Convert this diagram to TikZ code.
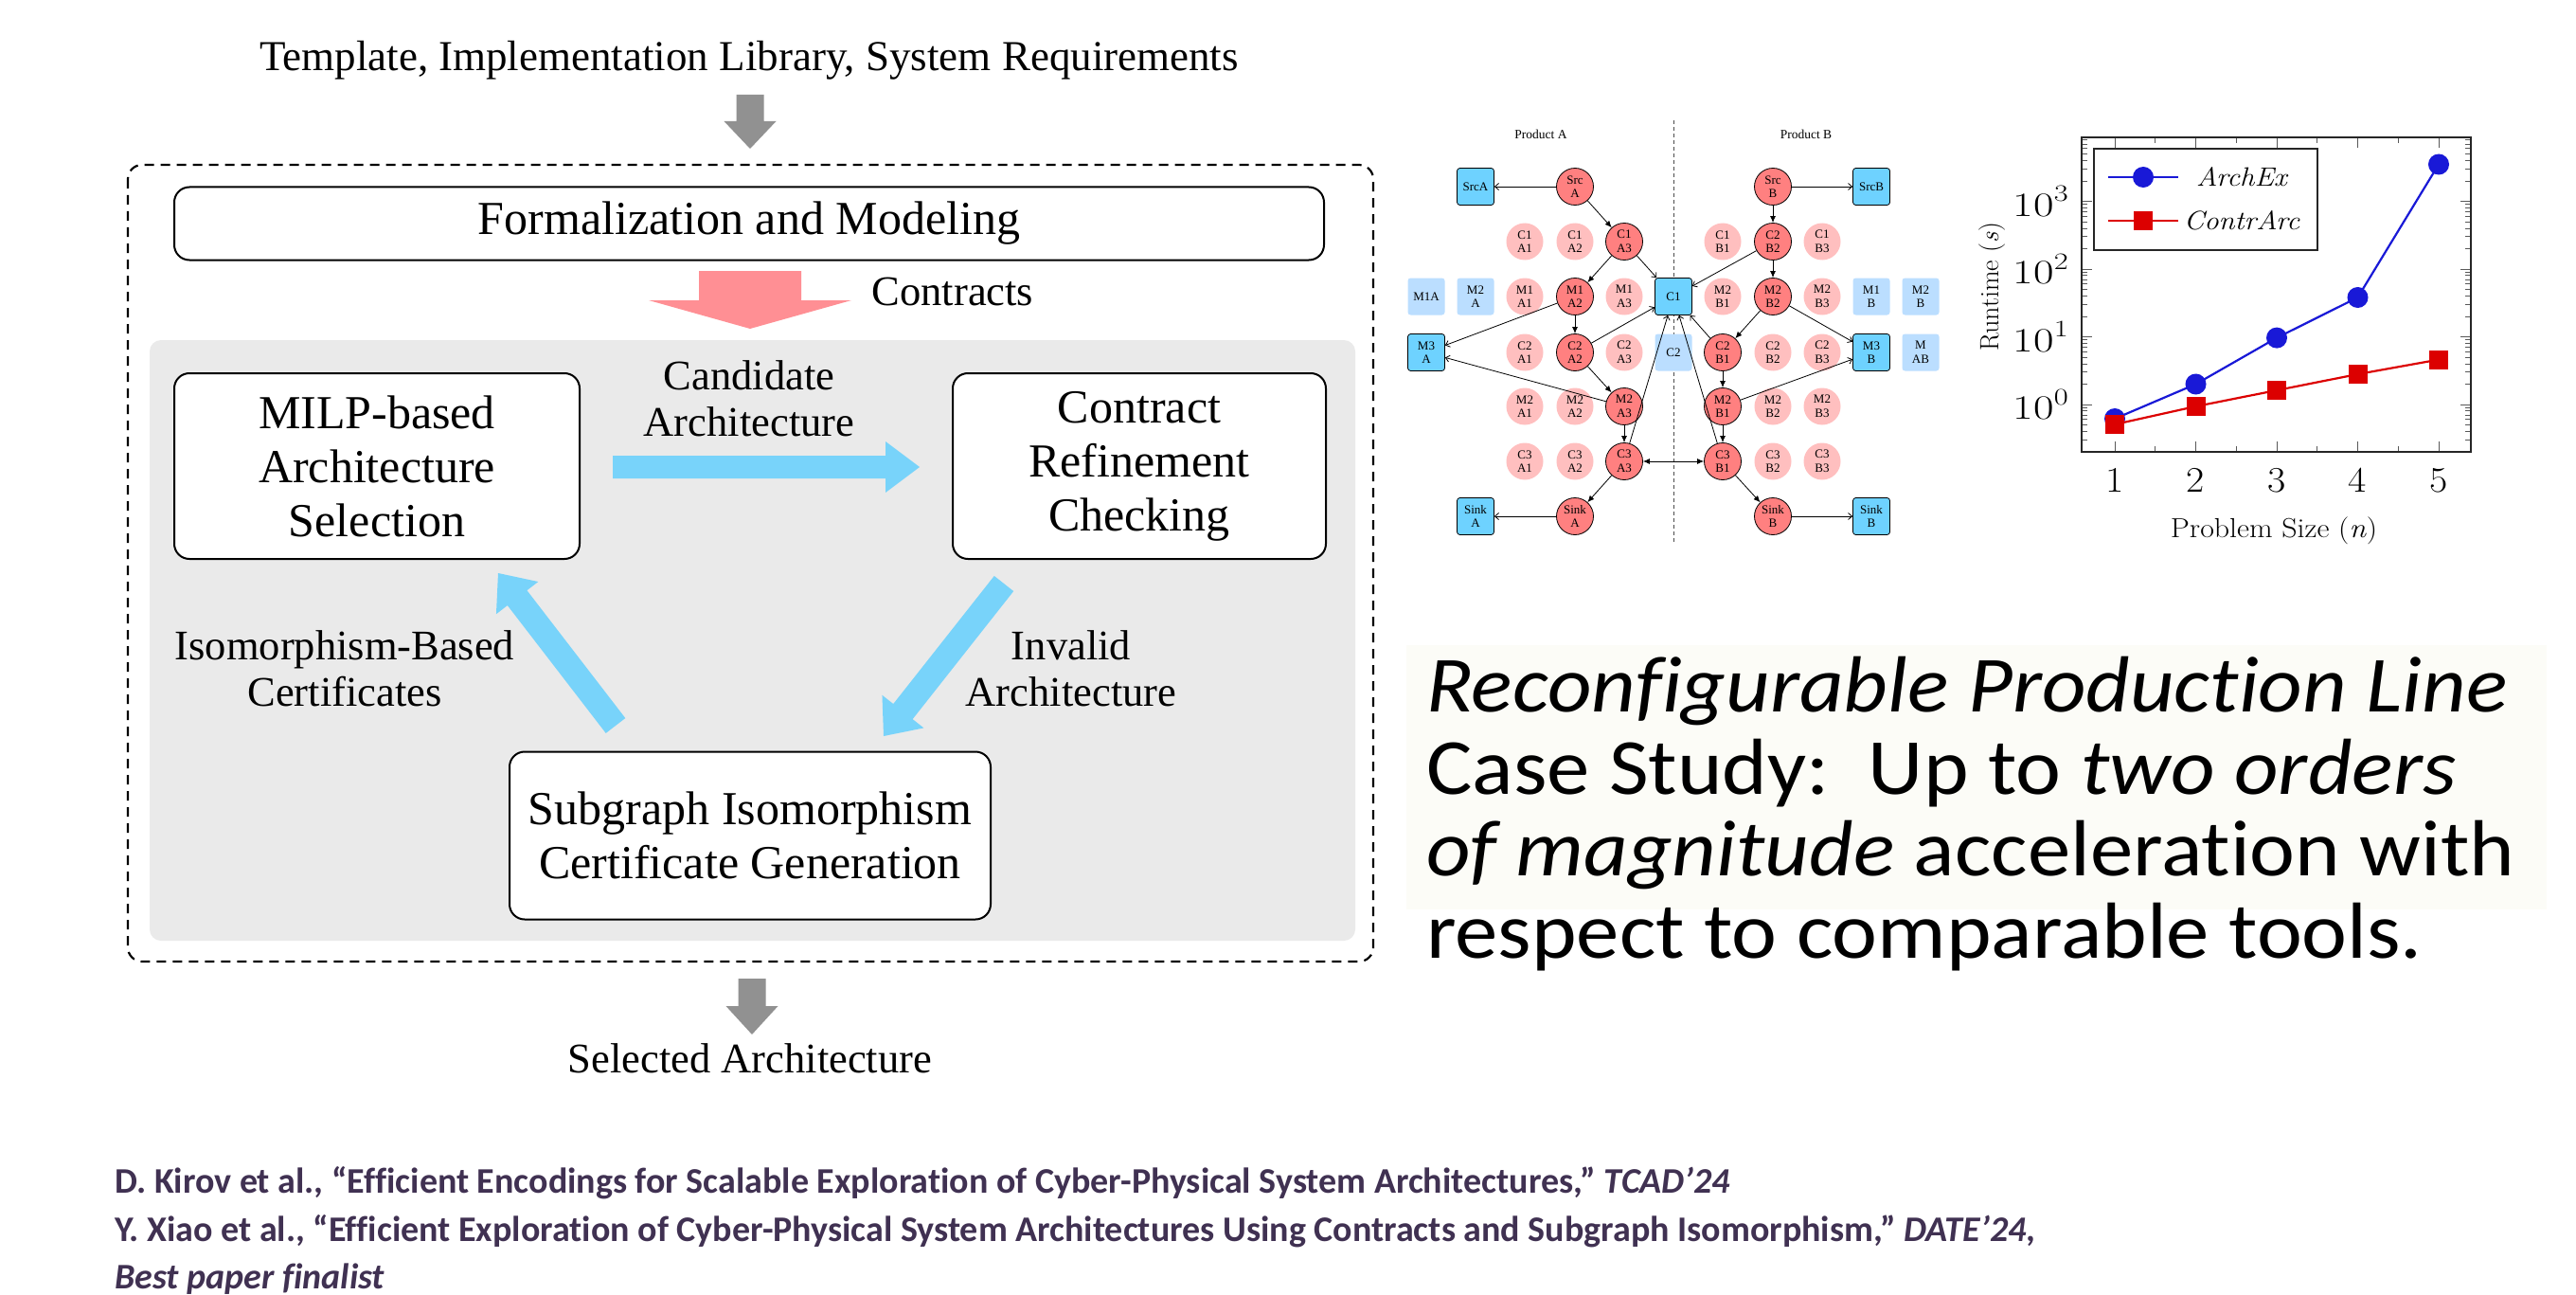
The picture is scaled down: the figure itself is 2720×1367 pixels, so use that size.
\documentclass[tikz,border=0pt]{standalone}
\usepackage{fontspec}
\setmainfont{Liberation Serif}
\newfontfamily\calib[Ligatures=NoCommon]{Carlito}
\newfontfamily\calibwide[FakeStretch=1.08,Ligatures=NoCommon]{Carlito}
\newfontfamily\lmr{Latin Modern Roman}
\newfontfamily\lmrw[FakeStretch=1.3]{Latin Modern Roman}
\newfontfamily\lmrx[FakeStretch=1.1]{Latin Modern Roman}
\usetikzlibrary{arrows.meta,calc}

\definecolor{redn}{RGB}{255,128,128}
\definecolor{pinkn}{RGB}{255,191,191}
\definecolor{bluen}{RGB}{110,210,255}
\definecolor{lbluen}{RGB}{187,222,255}
\definecolor{flowblue}{RGB}{120,211,250}
\definecolor{flowpink}{RGB}{255,143,148}
\definecolor{flowgray}{RGB}{145,145,145}
\definecolor{bgray}{RGB}{234,234,234}
\definecolor{refcol}{RGB}{64,49,82}
\definecolor{plotblue}{RGB}{25,25,215}
\definecolor{plotred}{RGB}{220,0,0}
\definecolor{tintbg}{RGB}{252,252,247}

\newcommand\fsz[2]{\fontsize{#1}{#2}\selectfont}
% block arrow: #1 name, #2 start, #3 tip, #4 half shaft, #5 half head, #6 head length, #7 colour
\newcommand\blockarr[7]{%
  \coordinate (#1h) at ($#3!#6!#2$);
  \fill[#7] ($#2!#4!90:#3$) -- ($(#1h)!#4!90:#3$) -- ($(#1h)!#5!90:#3$) -- #3
    -- ($(#1h)!#5!-90:#3$) -- ($(#1h)!#4!-90:#3$) -- ($#2!#4!-90:#3$) -- cycle;
}

\tikzset{
  gnode/.style={circle, minimum size=39pt, inner sep=0pt, align=center, font=\fsz{13}{14.5}},
  rn/.style={gnode, fill=redn, draw=black, line width=0.8pt},
  pn/.style={gnode, fill=pinkn},
  bn/.style={rectangle, rounded corners=3pt, minimum size=39pt, inner sep=0pt, align=center,
    font=\fsz{13}{14.5}, fill=bluen, draw=black, line width=0.8pt},
  lbn/.style={bn, fill=lbluen, draw=none},
  fa/.style={-{Latex[length=7pt,width=6pt]}, line width=0.8pt},
  oa/.style={-{Straight Barb[length=4pt,width=7pt]}, line width=0.8pt},
  fbox/.style={draw, line width=2pt, rounded corners=16pt, fill=white, align=center,
    font=\fsz{50}{57}, inner sep=0pt},
  flab/.style={align=center, font=\fsz{44.5}{49}, inner sep=0pt},
  tickc/.style={line width=0.9pt, black!65},
  reftext/.style={anchor=base west, inner sep=0pt, font=\calib\bfseries\fsz{38}{46}, text=refcol},
  rtext/.style={anchor=base west, inner sep=0pt, font=\calibwide\fsz{84}{87}},
}

\begin{document}
\begin{tikzpicture}[x=1pt,y=-1pt]
\useasboundingbox (0,0) rectangle (2720,1367);
\fill[white] (0,0) rectangle (2720,1367);

% ================= flowchart =================
\node[flab, font=\fsz{45}{49}] (top) at (791,64) {Template, Implementation Library, System Requirements};
\coordinate (gta) at (792,100); \coordinate (gtb) at (792,157);
\blockarr{gt}{(gta)}{(gtb)}{14.5pt}{27.5pt}{29pt}{flowgray}

\draw[line width=2.2pt, dash pattern=on 10pt off 7pt, rounded corners=15pt] (135,174) rectangle (1450,1015);
\fill[bgray, rounded corners=12pt] (158,359) rectangle (1431,993);

\node[fbox, minimum width=1214pt, minimum height=77pt] (formal) at (791,236) {Formalization and Modeling};

\coordinate (pka) at (792,286); \coordinate (pkb) at (792,347);
\blockarr{pk}{(pka)}{(pkb)}{54pt}{107pt}{30pt}{flowpink}
\node[flab, anchor=base] (contracts) at (1006,322) {Contracts};

\node[fbox, minimum width=428pt, minimum height=196pt] (milp) at (398,492) {MILP-based\\Architecture\\Selection};
\node[fbox, minimum width=394pt, minimum height=196pt] (crc) at (1203,492) {Contract\\Refinement\\Checking};
\node[fbox, minimum width=508pt, minimum height=177pt] (sub) at (792,882) {Subgraph Isomorphism\\Certificate Generation};

\node[flab] (cand) at (791,421) {Candidate\\Architecture};
\node[flab] (inval) at (1131,706) {Invalid\\Architecture};
\node[flab] (iso) at (364,706) {Isomorphism-Based\\Certificates};

\coordinate (b1a) at (647,493); \coordinate (b1b) at (971,493);
\blockarr{b1}{(b1a)}{(b1b)}{12pt}{27pt}{36pt}{flowblue}
\coordinate (b2a) at (1060,616); \coordinate (b2b) at (933,777);
\blockarr{b2}{(b2a)}{(b2b)}{13pt}{28pt}{33pt}{flowblue}
\coordinate (b3a) at (650,766); \coordinate (b3b) at (526,605);
\blockarr{b3}{(b3a)}{(b3b)}{13pt}{28pt}{33pt}{flowblue}

\coordinate (gba) at (794,1033); \coordinate (gbb) at (794,1092);
\blockarr{gb}{(gba)}{(gbb)}{14.5pt}{27.5pt}{30pt}{flowgray}
\node[flab, anchor=base] (selected) at (792,1132) {Selected Architecture};

% ================= graph =================
\draw[black!70, line width=0.8pt, dash pattern=on 4pt off 3pt] (1767,127) -- (1767,572);
\node[inner sep=0pt, font=\fsz{13.5}{15}] (prodA) at (1627,142) {Product A};
\node[inner sep=0pt, font=\fsz{13.5}{15}] (prodB) at (1907,142) {Product B};

% A side
\node[bn] (bSrcA) at (1558,197) {SrcA};
\node[rn] (SrcA) at (1663,197) {Src\\A};
\node[pn] (C1A1) at (1610,255) {C1\\A1};
\node[pn] (C1A2) at (1663,255) {C1\\A2};
\node[rn] (C1A3) at (1715,255) {C1\\A3};
\node[lbn] (bM1A) at (1506,313) {M1A};
\node[lbn] (bM2A) at (1558,313) {M2\\A};
\node[pn] (M1A1) at (1610,313) {M1\\A1};
\node[rn] (M1A2) at (1663,313) {M1\\A2};
\node[pn] (M1A3) at (1715,313) {M1\\A3};
\node[bn] (bC1) at (1767,313) {C1};
\node[bn] (bM3A) at (1506,372) {M3\\A};
\node[pn] (C2A1) at (1610,372) {C2\\A1};
\node[rn] (C2A2) at (1663,372) {C2\\A2};
\node[pn] (C2A3) at (1715,372) {C2\\A3};
\node[lbn] (bC2) at (1767,372) {C2};
\node[pn] (M2A1) at (1610,429) {M2\\A1};
\node[pn] (M2A2) at (1663,429) {M2\\A2};
\node[rn] (M2A3) at (1715,429) {M2\\A3};
\node[pn] (C3A1) at (1610,487) {C3\\A1};
\node[pn] (C3A2) at (1663,487) {C3\\A2};
\node[rn] (C3A3) at (1715,487) {C3\\A3};
\node[bn] (bSinkA) at (1558,545) {Sink\\A};
\node[rn] (SinkA) at (1663,545) {Sink\\A};

% B side
\node[rn] (SrcB) at (1872,197) {Src\\B};
\node[bn] (bSrcB) at (1976,197) {SrcB};
\node[pn] (C1B1) at (1819,255) {C1\\B1};
\node[rn] (C2B2) at (1872,255) {C2\\B2};
\node[pn] (C1B3) at (1924,255) {C1\\B3};
\node[pn] (M2B1p) at (1819,313) {M2\\B1};
\node[rn] (M2B2) at (1872,313) {M2\\B2};
\node[pn] (M2B3p) at (1924,313) {M2\\B3};
\node[lbn] (bM1B) at (1976,313) {M1\\B};
\node[lbn] (bM2B) at (2028,313) {M2\\B};
\node[rn] (C2B1) at (1819,372) {C2\\B1};
\node[pn] (C2B2p) at (1872,372) {C2\\B2};
\node[pn] (C2B3) at (1924,372) {C2\\B3};
\node[bn] (bM3B) at (1976,372) {M3\\B};
\node[lbn] (bMAB) at (2028,372) {M\\AB};
\node[rn] (M2B1) at (1819,429) {M2\\B1};
\node[pn] (M2B2p) at (1872,429) {M2\\B2};
\node[pn] (M2B3q) at (1924,429) {M2\\B3};
\node[rn] (C3B1) at (1819,487) {C3\\B1};
\node[pn] (C3B2) at (1872,487) {C3\\B2};
\node[pn] (C3B3) at (1924,487) {C3\\B3};
\node[rn] (SinkB) at (1872,545) {Sink\\B};
\node[bn] (bSinkB) at (1976,545) {Sink\\B};

% edges
\draw[oa] (SrcA) -- (bSrcA);
\draw[fa] (SrcA) -- (C1A3);
\draw[fa] (C1A3) -- (M1A2);
\draw[oa] (C1A3) -- (bC1);
\draw[oa] (M1A2) -- (bM3A);
\draw[fa] (M1A2) -- (C2A2);
\draw[oa] (C2A2) -- (bC1);
\draw[fa] (C2A2) -- (M2A3);
\draw[oa] (M2A3) -- (bM3A);
\draw[fa] (M2A3) -- (C3A3);
\draw[oa] (C3A3) -- (bC1);
\draw[fa] (C3A3) -- (SinkA);
\draw[oa] (SinkA) -- (bSinkA);
\draw[{Latex[length=7pt,width=6pt]}-{Latex[length=7pt,width=6pt]}, line width=0.8pt] (C3A3) -- (C3B1);
\draw[oa] (SrcB) -- (bSrcB);
\draw[fa] (SrcB) -- (C2B2);
\draw[oa] (C2B2) -- (bC1);
\draw[fa] (C2B2) -- (M2B2);
\draw[fa] (M2B2) -- (C2B1);
\draw[oa] (M2B2) -- (bM3B);
\draw[oa] (C2B1) -- (bC1);
\draw[fa] (C2B1) -- (M2B1);
\draw[oa] (M2B1) -- (bM3B);
\draw[fa] (M2B1) -- (C3B1);
\draw[oa] (C3B1) -- (bC1);
\draw[fa] (C3B1) -- (SinkB);
\draw[oa] (SinkB) -- (bSinkB);

% ================= plot =================
\begin{scope}
\clip (2198,145) rectangle (2609,477);
\foreach \d in {-1,0,1,2,3}{
  \foreach \k in {2,...,9}{
    \pgfmathsetmacro\yy{427-71.5*(\d+log10(\k))}
    \draw[tickc] (2198,\yy) -- ++(6,0);
    \draw[tickc] (2609,\yy) -- ++(-6,0);
  }
  \pgfmathsetmacro\yy{427-71.5*\d}
  \draw[tickc] (2198,\yy) -- ++(11,0);
  \draw[tickc] (2609,\yy) -- ++(-11,0);
}
\foreach \n in {1,...,5}{
  \pgfmathsetmacro\xx{2233+85.5*(\n-1)}
  \draw[tickc] (\xx,477) -- ++(0,-11);
  \draw[tickc] (\xx,145) -- ++(0,11);
}
\foreach \n in {1.5,2.5,3.5,4.5}{
  \pgfmathsetmacro\xx{2233+85.5*(\n-1)}
  \draw[tickc] (\xx,477) -- ++(0,-6);
  \draw[tickc] (\xx,145) -- ++(0,6);
}
\end{scope}
\draw[line width=1.2pt, black!85] (2198,145) rectangle (2609,477);

\foreach \d/\yy in {0/427,1/355.5,2/284,3/212.5}{
  \node[anchor=east, inner sep=0pt, font=\lmrw\fsz{36}{36}] at (2184,\yy) {10\raisebox{0.42em}{\fsz{25}{25}\d}};
}
\foreach \n in {1,...,5}{
  \pgfmathsetmacro\xx{2233+85.5*(\n-1)}
  \node[inner sep=0pt, font=\lmrx\fsz{38}{38}] at (\xx,507) {\n};
}
\node[inner sep=0pt, font=\lmrx\fsz{29}{29}] (xlab) at (2401,560) {Problem Size (\textit{n})};
\node[inner sep=0pt, font=\lmr\fsz{28}{28}, rotate=90] (ylab) at (2103,303) {Runtime (\textit{s})};

\draw[plotblue, line width=2.2pt] (2233,442) -- (2318.5,405.5) -- (2404,356.6) -- (2489.5,314) -- (2575,173.5);
\foreach \p in {(2233,442),(2318.5,405.5),(2404,356.6),(2489.5,314),(2575,173.5)}
  \fill[plotblue] \p circle (11pt);
\draw[plotred, line width=2.2pt] (2233,448) -- (2318.5,429) -- (2404,412) -- (2489.5,395) -- (2575,379.6);
\foreach \p in {(2233,448),(2318.5,429),(2404,412),(2489.5,395),(2575,379.6)}
  \fill[plotred] \p ++(-10,-10) rectangle ++(20,20);

% legend
\draw[line width=1.2pt, black!85, fill=white] (2211,157) rectangle (2447,264);
\draw[plotblue, line width=2.2pt] (2226,187) -- (2300,187);
\fill[plotblue] (2263,187) circle (11pt);
\node[inner sep=0pt, font=\lmrx\itshape\fsz{28}{28}] (lg1) at (2367,187) {ArchEx};
\draw[plotred, line width=2.2pt] (2226,233) -- (2300,233);
\fill[plotred] (2253,223) rectangle (2273,243);
\node[inner sep=0pt, font=\lmrx\itshape\fsz{28}{28}] (lg2) at (2367,233) {ContrArc};

% ================= right text =================
\fill[tintbg] (1485,681) rectangle (2689,960);
\node[rtext] (r1) at (1506,751) {\itshape Reconfigurable Production Line};
\node[rtext] (r2) at (1506,838) {Case Study:\ \ Up to \textit{two orders}};
\node[rtext] (r3) at (1506,924) {\textit{of magnitude} acceleration with};
\node[rtext] (r4) at (1506,1011) {respect to comparable tools.};

% ================= references =================
\node[reftext] (ref1) at (121,1259) {D. Kirov et al., “Efficient Encodings for Scalable Exploration of Cyber-Physical System Architectures,” \textit{TCAD’24}};
\node[reftext] (ref2) at (121,1310) {Y. Xiao et al., “Efficient Exploration of Cyber-Physical System Architectures Using Contracts and Subgraph Isomorphism,” \textit{DATE’24},};
\node[reftext] (ref3) at (121,1360) {\textit{Best paper finalist}};
\end{tikzpicture}
\end{document}
